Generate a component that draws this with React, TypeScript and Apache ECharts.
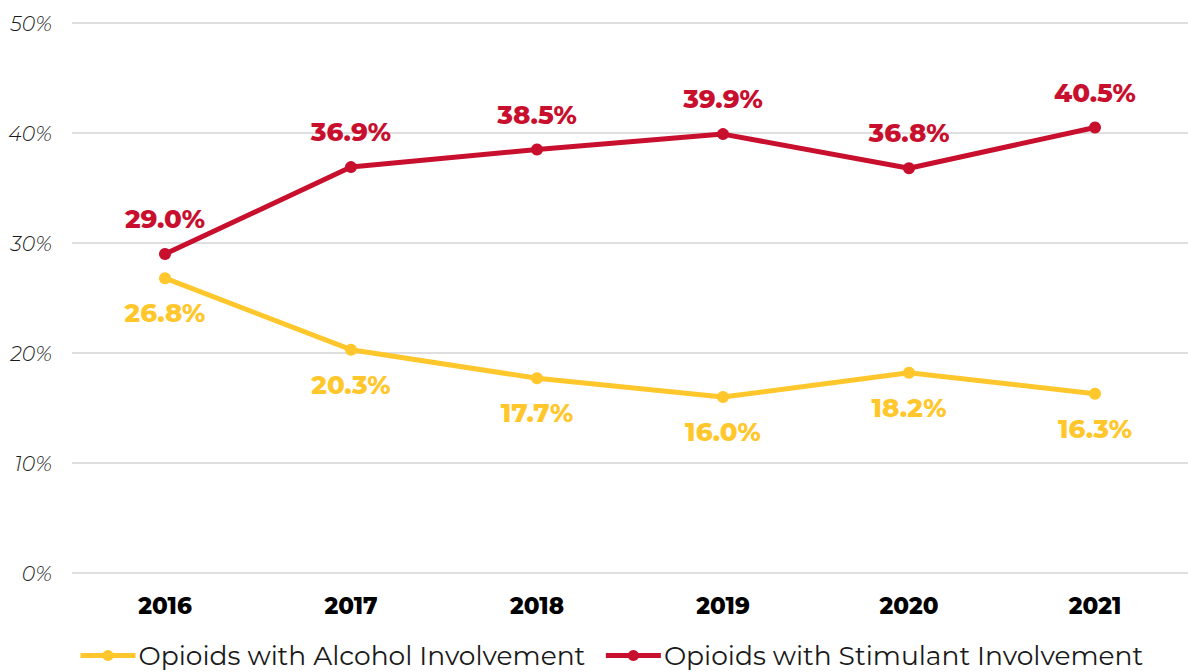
import React, { useEffect, useRef } from "react";
import * as echarts from "echarts";

const years = ["2016", "2017", "2018", "2019", "2020", "2021"];
const alcohol = [26.8, 20.3, 17.7, 16.0, 18.2, 16.3];
const stimulant = [29.0, 36.9, 38.5, 39.9, 36.8, 40.5];
const seriesNames = ["Opioids with Alcohol Involvement", "Opioids with Stimulant Involvement"];

const FONT = "Montserrat, 'DejaVu Sans', sans-serif";
const RED = "#C8102E";
const YELLOW = "#FFC72C";

export default function App() {
  const ref = useRef<HTMLDivElement>(null);
  useEffect(() => {
    if (!ref.current) return;
    const chart = echarts.init(ref.current, undefined, { renderer: "svg" });
    chart.setOption({
      animation: false,
      grid: { left: 72, right: 0, top: 23, bottom: 99 },
      legend: {
        top: 642,
        left: 78,
        padding: 0,
        itemWidth: 55,
        itemHeight: 14,
        itemGap: 18,
        lineStyle: { width: 5 },
        textStyle: { fontFamily: FONT, fontSize: 26.5, color: "#1a1a1a", padding: [0, 0, 0, -2] },
        data: seriesNames,
      },
      xAxis: {
        type: "category",
        data: years,
        boundaryGap: true,
        axisLine: { show: false },
        axisTick: { show: false },
        axisLabel: { fontFamily: FONT, fontSize: 23, fontWeight: 800, color: "#000", margin: 21 },
      },
      yAxis: {
        type: "value",
        min: 0,
        max: 50,
        interval: 10,
        axisLabel: {
          formatter: "{value}%",
          fontFamily: FONT,
          fontSize: 20.5,
          fontStyle: "italic",
          fontWeight: 300,
          color: "#1a1a1a",
          margin: 20,
        },
        splitLine: { lineStyle: { color: "#d4d4d4", width: 1.5 } },
        axisLine: { show: false },
        axisTick: { show: false },
      },
      series: [
        {
          name: seriesNames[0],
          type: "line",
          data: alcohol,
          color: YELLOW,
          symbol: "circle",
          symbolSize: 12,
          lineStyle: { width: 5, color: YELLOW },
          itemStyle: { color: YELLOW },
          label: {
            show: true,
            position: "bottom",
            distance: 16,
            formatter: (p: any) => p.value.toFixed(1) + "%",
            fontFamily: FONT,
            fontSize: 26,
            fontWeight: 800,
            color: YELLOW,
          },
        },
        {
          name: seriesNames[1],
          type: "line",
          data: stimulant,
          color: RED,
          symbol: "circle",
          symbolSize: 12,
          lineStyle: { width: 5, color: RED },
          itemStyle: { color: RED },
          label: {
            show: true,
            position: "top",
            distance: 16,
            formatter: (p: any) => p.value.toFixed(1) + "%",
            fontFamily: FONT,
            fontSize: 26,
            fontWeight: 800,
            color: RED,
          },
        },
      ],
    });
    return () => chart.dispose();
  }, []);
  return (
    <div
      ref={ref}
      style={{ position: "fixed", left: 0, top: 0, width: 1188, height: 672, background: "#fff" }}
    />
  );
}
